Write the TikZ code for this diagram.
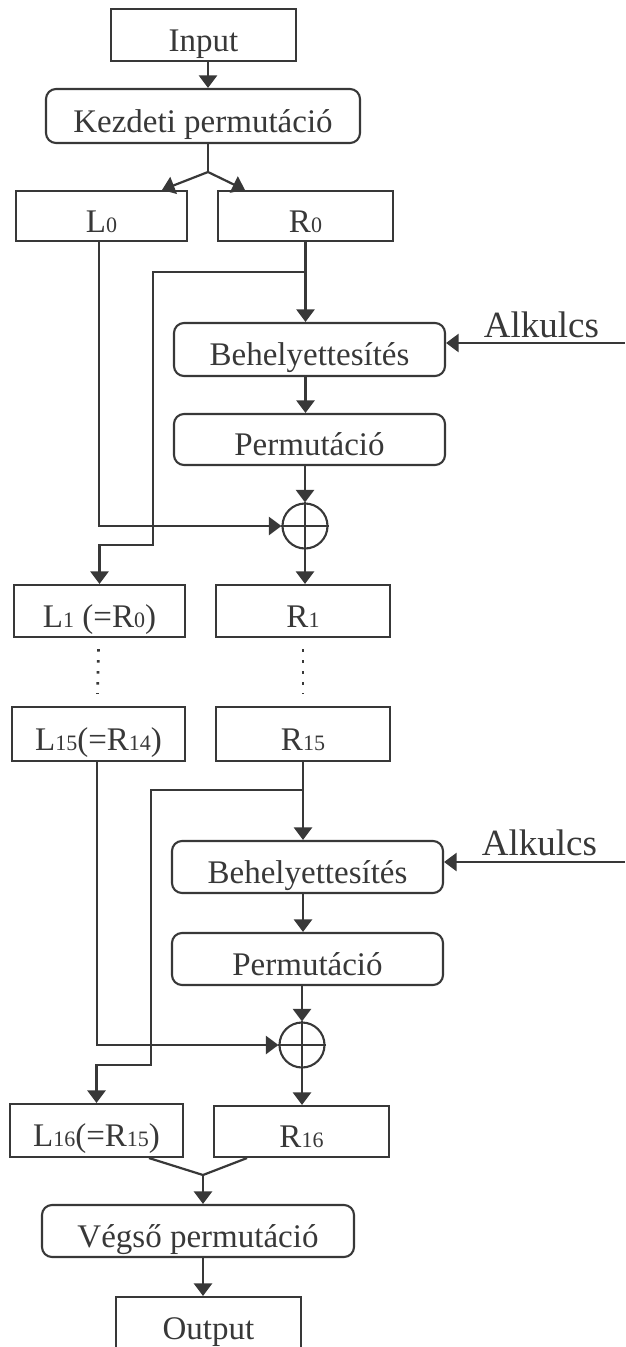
\documentclass[tikz,border=0pt]{standalone}
\usepackage{fontspec}
\setmainfont{Liberation Serif}
\usetikzlibrary{arrows.meta,calc}
\definecolor{ink}{HTML}{383838}
% small digits standing on the baseline, as in L0, R15
\newcommand{\ix}[1]{{\fontsize{22}{22}\selectfont #1}}
\begin{document}
\begin{tikzpicture}[x=1pt,y=-1pt,color=ink,line width=2.2pt,
  >={Triangle[length=12.5pt,width=18pt]},
  box/.style={draw,line width=2.1pt,inner sep=0pt,text height=34pt,text depth=2pt,
    font=\fontsize{33}{36}\selectfont},
  rbox/.style={box,rounded corners=10pt},
  xorop/.style={circle,draw,line width=2.1pt,minimum size=45pt,inner sep=0pt},
  keytext/.style={font=\fontsize{37}{40}\selectfont,inner sep=0pt,anchor=base east},
  vdots/.style={line width=2.6pt,dash pattern=on 2.6pt off 8.4pt}]
\useasboundingbox (0,0) rectangle (625,1347);
\fill[white] (0,0) rectangle (625,1347);

% ---- input and initial permutation
\node[box,minimum width=185pt,minimum height=52pt] (in) at (203.5,35) {Input};
\node[rbox,minimum width=314pt,minimum height=54pt] (kp) at (203,116) {Kezdeti permutáció};
\node[box,minimum width=171pt,minimum height=50pt] (l0) at (101.5,216) {L\ix{0}};
\node[box,minimum width=175pt,minimum height=50pt] (r0) at (305.5,216) {R\ix{0}};
\coordinate (split0) at (208,172);
\draw[->] ([xshift=4.5pt]in.south) -- ([xshift=5pt]kp.north);
\draw ([xshift=5pt]kp.south) -- (split0);
\draw[->] (split0) -- ([xshift=60.5pt]l0.north);
\draw[->] (split0) -- ([xshift=-60.5pt]r0.north);

% ---- first round
\node[rbox,minimum width=271pt,minimum height=53pt] (beh1) at (309.5,349.5) {Behelyettesítés};
\node[rbox,minimum width=271pt,minimum height=51pt] (perm1) at (309.5,439.5) {Permutáció};
\node[xorop] (x1) at (305,526) {};
\draw (x1.north) -- (x1.south) (x1.west) -- (x1.east);
\node[box,minimum width=171pt,minimum height=52pt] (l1) at (99.5,611) {L\ix{1} (=R\ix{0})};
\node[box,minimum width=174pt,minimum height=52pt] (r1) at (303,611) {R\ix{1}};
\coordinate (fork1) at (305.5,272);
\coordinate (cross1) at (153,545);
\coordinate (key1) at (625,343);
\node[keytext] (k1t) at (600,337) {Alkulcs};
\draw[->] ([xshift=-2.5pt]l0.south) |- (x1.west);
\draw[->] (r0.south) -- (r0.south |- beh1.north);
\draw[->] (fork1) -| (cross1) -| (l1.north);
\draw[->] (key1) -- (key1 -| beh1.east);
\draw[->] (beh1.south -| fork1) -- (perm1.north -| fork1);
\draw[->] (perm1.south -| x1) -- (x1.north);
\draw[->] (x1.south) -- (x1.south |- r1.north);

% ---- rounds 2 .. 15 elided
\node[box,minimum width=173pt,minimum height=54pt] (l15) at (98.5,734) {L\ix{15}(=R\ix{14})};
\node[box,minimum width=174pt,minimum height=54pt] (r15) at (303,734) {R\ix{15}};
\draw[vdots] ($(l1.south)+(-1,11)$) -- ($(l15.north)+(-1,-12)$);
\draw[vdots] ($(r1.south)+(0,11)$) -- ($(r15.north)+(0,-12)$);

% ---- last round
\node[rbox,minimum width=271pt,minimum height=52pt] (beh2) at (307.5,867) {Behelyettesítés};
\node[rbox,minimum width=271pt,minimum height=52pt] (perm2) at (307.5,959) {Permutáció};
\node[xorop] (x2) at (302,1045) {};
\draw (x2.north) -- (x2.south) (x2.west) -- (x2.east);
\node[box,minimum width=173pt,minimum height=53pt] (l16) at (96.5,1130.5) {L\ix{16}(=R\ix{15})};
\node[box,minimum width=175pt,minimum height=51pt] (r16) at (301.5,1131.5) {R\ix{16}};
\coordinate (fork2) at (303,790);
\coordinate (cross2) at (151,1065);
\coordinate (key2) at (625,862);
\node[keytext] (k2t) at (598,855) {Alkulcs};
\draw[->] ([xshift=-1.5pt]l15.south) |- (x2.west);
\draw[->] (r15.south) -- (r15.south |- beh2.north);
\draw[->] (fork2) -| (cross2) -| (l16.north);
\draw[->] (key2) -- (key2 -| beh2.east);
\draw[->] (beh2.south -| fork2) -- (perm2.north -| fork2);
\draw[->] (perm2.south -| x2) -- (x2.north);
\draw[->] (x2.south) -- (x2.south |- r16.north);

% ---- final permutation and output
\node[rbox,minimum width=312pt,minimum height=52pt] (vp) at (198,1231) {Végső permutáció};
\node[box,minimum width=185pt,minimum height=53pt] (out) at (208.5,1323.5) {Output};
\coordinate (merge) at (203,1175);
\draw ([xshift=52.5pt]l16.south) -- (merge) -- ([xshift=-54.5pt]r16.south);
\draw[->] (merge) -- (merge |- vp.north);
\draw[->] (merge |- vp.south) -- (merge |- out.north);
\end{tikzpicture}
\end{document}
